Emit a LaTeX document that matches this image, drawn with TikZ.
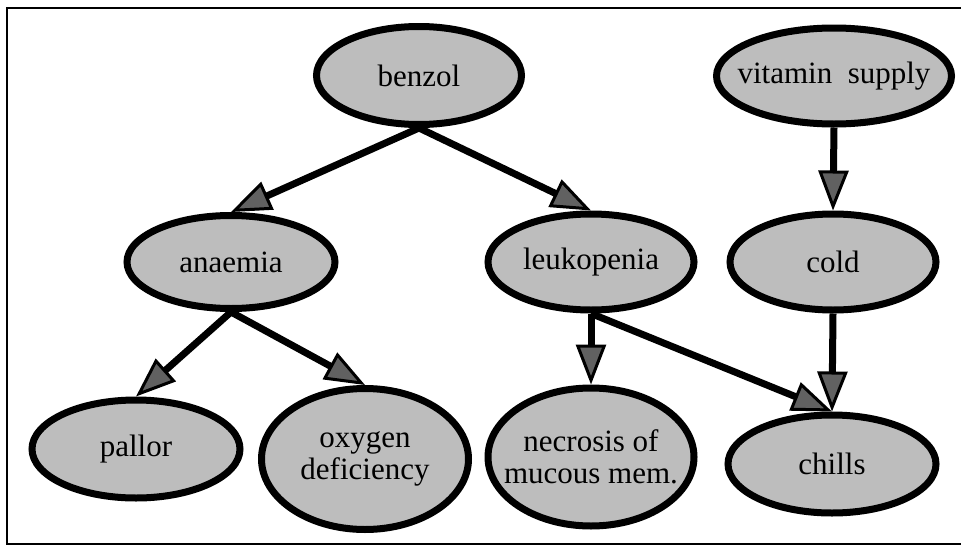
\documentclass[tikz,border=0pt]{standalone}
\usepackage{fontspec}
\setmainfont{Liberation Serif}
\usetikzlibrary{arrows.meta,shapes.geometric}
\newcommand{\zw}[1]{\makebox[0pt]{#1}}
\begin{document}
\begin{tikzpicture}[x=1pt,y=-1pt,
  nd/.style={ellipse, draw=black, line width=7pt, fill=black!26, inner sep=0pt,
    align=center, font=\fontsize{31}{32}\selectfont},
  edge/.style={line width=7pt,
    -{Triangle[length=40pt,width=30pt,line width=3pt,fill=black!62]}}]
\useasboundingbox (0,0) rectangle (961,546);
\fill[white] (0,0) rectangle (961,546);
\draw[line width=2pt] (7,8) rectangle (980,544);
\node[nd, minimum width=205pt, minimum height=98pt] (benzol) at (419,75.5) {\zw{benzol}};
\node[nd, minimum width=235pt, minimum height=96pt] (vitamin) at (834,76) {\zw{vitamin\ \ supply}};
\node[nd, minimum width=208pt, minimum height=93pt] (anaemia) at (231,262) {\zw{anaemia}};
\node[nd, minimum width=206pt, minimum height=96pt] (leuko) at (591,262) {\zw{leukopenia}};
\node[nd, minimum width=206pt, minimum height=96pt] (cold) at (833,262) {\zw{cold}};
\node[nd, minimum width=208pt, minimum height=98pt] (pallor) at (136,449) {\zw{pallor}};
\node[nd, minimum width=207pt, minimum height=141pt] (oxygen) at (365,459) {\zw{oxygen}\\\zw{deficiency}};
\node[nd, minimum width=206pt, minimum height=138pt] (necrosis) at (591,457) {\zw{necrosis of}\\\zw{mucous mem.}};
\node[nd, minimum width=208pt, minimum height=98pt] (chills) at (832,464) {\zw{chills}};
\draw[edge] (benzol.south) -- (anaemia.north);
\draw[edge] (benzol.south) -- (leuko.north);
\draw[edge] (anaemia.south) -- (pallor.north);
\draw[edge] (anaemia.south) -- (oxygen.north);
\draw[edge] (leuko.south) -- (necrosis.north);
\draw[edge] (leuko.south) -- (chills.north);
\draw[edge] (vitamin.south) -- (cold.north);
\draw[edge] (cold.south) -- (chills.north);
\end{tikzpicture}
\end{document}
